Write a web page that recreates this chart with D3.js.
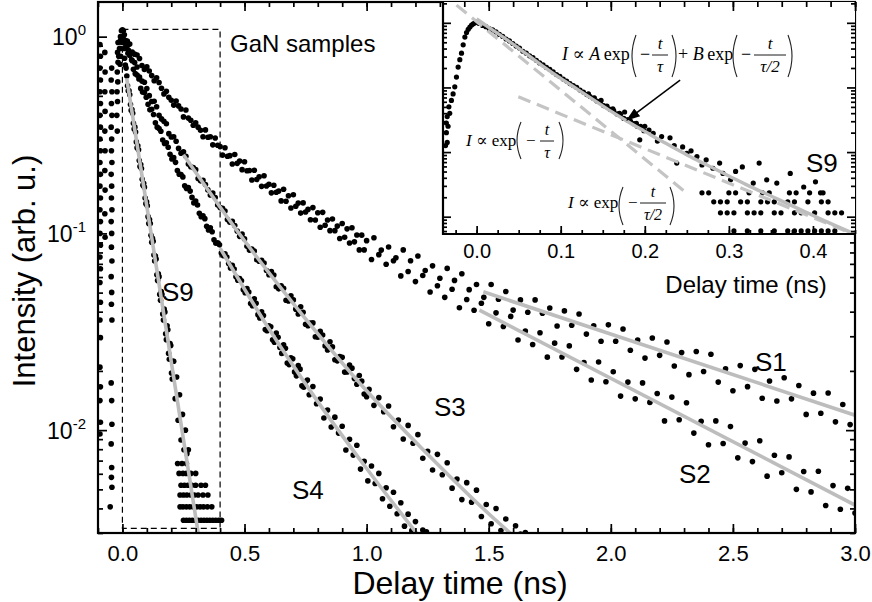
<!DOCTYPE html>
<html><head><meta charset="utf-8">
<script src="https://cdn.jsdelivr.net/npm/d3@7"></script>
<style>
body{margin:0;background:#fff}
svg{display:block}
</style>
</head><body>
<svg id="chart" width="872" height="602"></svg>
<script>
// ---------------- DATA ----------------
// Main axes
const mainXDomain = [-0.1, 3.0];
const mainYDomain = [0.003, 1.5];
const mainXMajor = [0, 0.5, 1.0, 1.5, 2.0, 2.5, 3.0];
const mainXTickLabels = ["0.0", "0.5", "1.0", "1.5", "2.0", "2.5", "3.0"];
const mainXMinor = [-0.1,0,0.1,0.2,0.3,0.4,0.5,0.6,0.7,0.8,0.9,1.0,1.1,1.2,1.3,1.4,1.5,1.6,1.7,1.8,1.9,2.0,2.1,2.2,2.3,2.4,2.5,2.6,2.7,2.8,2.9,3.0];
const mainYMajor = [1, 0.1, 0.01];
const mainYExponents = ["0", "-1", "-2"];
const seriesNames = ["S1", "S2", "S3", "S4", "S9"];

// Inset axes
const insetXDomain = [-0.04, 0.45];
const insetYDomain = [0.00054, 2.1];
const insetXMajor = [0, 0.1, 0.2, 0.3, 0.4];
const insetXTickLabels = ["0.0", "0.1", "0.2", "0.3", "0.4"];
const insetXMinor = [-0.025,0,0.025,0.05,0.075,0.1,0.125,0.15,0.175,0.2,0.225,0.25,0.275,0.3,0.325,0.35,0.375,0.4,0.425,0.45];
const insetYMajor = [1, 0.1, 0.01, 0.001];

// Measured decays: pairs [delay time (ns), log10 of intensity (arb. u.)]
const s1Decay = [[0,0],[0.02,-0.023],[0.04,-0.078],[0.06,-0.093],[0.08,-0.147],[0.1,-0.153],[0.12,-0.198],[0.14,-0.209],[0.16,-0.262],[0.18,-0.278],[0.2,-0.323],[0.22,-0.327],[0.24,-0.368],[0.26,-0.373],[0.28,-0.425],[0.3,-0.438],[0.32,-0.476],[0.34,-0.474],[0.36,-0.509],[0.38,-0.515],[0.4,-0.559],[0.42,-0.565],[0.44,-0.605],[0.46,-0.599],[0.48,-0.632],[0.5,-0.636],[0.52,-0.68],[0.54,-0.679],[0.56,-0.712],[0.58,-0.707],[0.6,-0.75],[0.62,-0.755],[0.64,-0.785],[0.66,-0.776],[0.68,-0.809],[0.7,-0.804],[0.72,-0.846],[0.74,-0.845],[0.76,-0.878],[0.78,-0.869],[0.8,-0.895],[0.82,-0.893],[0.84,-0.932],[0.86,-0.927],[0.88,-0.963],[0.9,-0.95],[0.92,-0.977],[0.94,-0.971],[0.96,-1.008],[0.98,-1.009],[1,-1.037],
[1.03,-1.022],[1.06,-1.085],[1.09,-1.069],[1.12,-1.124],[1.15,-1.084],[1.18,-1.139],[1.21,-1.115],[1.24,-1.189],[1.27,-1.165],[1.3,-1.228],[1.33,-1.178],[1.36,-1.239],[1.39,-1.205],[1.42,-1.286],[1.45,-1.26],[1.48,-1.325],[1.51,-1.26],[1.54,-1.335],[1.57,-1.295],[1.6,-1.39],[1.63,-1.338],[1.66,-1.401],[1.69,-1.338],[1.72,-1.406],[1.75,-1.379],[1.78,-1.471],[1.81,-1.394],[1.84,-1.467],[1.87,-1.41],[1.9,-1.512],[1.93,-1.47],[1.96,-1.548],[1.99,-1.465],[2.02,-1.548],[2.05,-1.486],[2.08,-1.594],[2.11,-1.542],[2.14,-1.634],[2.17,-1.532],[2.2,-1.62],[2.23,-1.552],[2.26,-1.674],[2.29,-1.606],[2.32,-1.718],[2.35,-1.6],[2.38,-1.702],[2.41,-1.614],[2.44,-1.756],[2.47,-1.688],[2.5,-1.8],[2.53,-1.672],[2.56,-1.779],[2.59,-1.691],[2.62,-1.838],[2.65,-1.75],[2.68,-1.852],[2.71,-1.734],[2.74,-1.841],[2.77,-1.773],[2.8,-1.92],[2.83,-1.812],[2.86,-1.914],[2.89,-1.811],[2.92,-1.958],[2.95,-1.87],[2.98,-1.972]];

const s2Decay = [[0.01,-0.027],[0.03,-0.038],[0.05,-0.089],[0.07,-0.111],[0.09,-0.167],[0.11,-0.175],[0.13,-0.224],[0.15,-0.233],[0.17,-0.291],[0.19,-0.308],[0.21,-0.348],[0.23,-0.352],[0.25,-0.408],[0.27,-0.414],[0.29,-0.45],[0.31,-0.46],[0.33,-0.509],[0.35,-0.511],[0.37,-0.55],[0.39,-0.552],[0.41,-0.602],[0.43,-0.608],[0.45,-0.647],[0.47,-0.644],[0.49,-0.676],[0.51,-0.682],[0.53,-0.729],[0.55,-0.726],[0.57,-0.761],[0.59,-0.759],[0.61,-0.794],[0.63,-0.791],[0.65,-0.835],[0.67,-0.837],[0.69,-0.871],[0.71,-0.862],[0.73,-0.897],[0.75,-0.891],[0.77,-0.931],[0.79,-0.932],[0.81,-0.969],[0.83,-0.959],[0.85,-0.986],[0.87,-0.986],[0.89,-1.026],[0.91,-1.02],[0.93,-1.049],[0.95,-1.043],[0.97,-1.084],[0.99,-1.084],
[1.02,-1.133],[1.05,-1.108],[1.08,-1.157],[1.11,-1.139],[1.14,-1.216],[1.17,-1.194],[1.2,-1.245],[1.23,-1.214],[1.26,-1.298],[1.29,-1.266],[1.32,-1.325],[1.35,-1.284],[1.38,-1.378],[1.41,-1.336],[1.44,-1.391],[1.47,-1.355],[1.5,-1.459],[1.53,-1.404],[1.56,-1.473],[1.59,-1.422],[1.62,-1.542],[1.65,-1.496],[1.68,-1.565],[1.71,-1.505],[1.74,-1.629],[1.77,-1.558],[1.8,-1.628],[1.83,-1.572],[1.86,-1.691],[1.89,-1.656],[1.92,-1.745],[1.95,-1.654],[1.98,-1.754],[2.01,-1.703],[2.04,-1.827],[2.07,-1.756],[2.1,-1.841],[2.13,-1.76],[2.16,-1.859],[2.19,-1.814],[2.22,-1.953],[2.25,-1.832],[2.28,-1.947],[2.31,-1.861],[2.34,-2.015],[2.37,-1.955],[2.4,-2.074],[2.43,-1.953],[2.46,-2.068],[2.49,-1.982],[2.52,-2.141],[2.55,-2.066],[2.58,-2.16],[2.61,-2.054],[2.64,-2.234],[2.67,-2.128],[2.7,-2.217],[2.73,-2.136],[2.76,-2.301],[2.79,-2.21],[2.82,-2.314],[2.85,-2.209],[2.88,-2.383],[2.91,-2.282],[2.94,-2.402],[2.97,-2.296],[3.0,-2.421]];

const s3Decay = [[0.01,-0.018],[0.03,-0.096],[0.05,-0.132],[0.07,-0.206],[0.09,-0.232],[0.11,-0.3],[0.13,-0.328],[0.15,-0.4],[0.17,-0.43],[0.19,-0.493],[0.21,-0.509],[0.23,-0.568],[0.25,-0.585],[0.27,-0.647],[0.29,-0.665],[0.31,-0.721],[0.33,-0.73],[0.35,-0.779],[0.37,-0.795],[0.39,-0.856],[0.41,-0.873],[0.43,-0.93],[0.45,-0.938],[0.47,-0.988],[0.49,-1.004],[0.51,-1.066],[0.53,-1.08],[0.55,-1.134],[0.57,-1.137],[0.59,-1.189],[0.61,-1.194],[0.63,-1.271],[0.65,-1.266],[0.67,-1.34],[0.69,-1.317],[0.71,-1.385],[0.73,-1.373],[0.75,-1.462],[0.77,-1.456],[0.79,-1.525],[0.81,-1.498],[0.83,-1.572],[0.85,-1.551],[0.87,-1.642],[0.89,-1.626],[0.91,-1.705],[0.93,-1.669],[0.95,-1.738],[0.97,-1.722],[0.99,-1.816],[1.01,-1.793],[1.03,-1.874],[1.05,-1.835],[1.07,-1.906],[1.09,-1.877],[1.11,-1.983],[1.13,-1.949],[1.15,-2.045],[1.17,-1.976],[1.19,-2.067],[1.21,-2.023],[1.23,-2.143],[1.25,-2.108],[1.27,-2.203],[1.29,-2.123],[1.31,-2.227],[1.33,-2.166],[1.35,-2.295],[1.37,-2.249],[1.39,-2.353],[1.41,-2.267],[1.43,-2.366],[1.45,-2.305],[1.47,-2.439],[1.49,-2.378],[1.51,-2.476],[1.53,-2.398],[1.55,-2.51],[1.57,-2.452],[1.59,-2.544],[1.61,-2.486],[1.63,-2.528],[1.65,-2.52]];
const s3DecayB = [[0.02,-0.046],[0.04,-0.122],[0.06,-0.154],[0.08,-0.226],[0.1,-0.264],[0.12,-0.33],[0.14,-0.356],[0.16,-0.418],[0.18,-0.443],[0.2,-0.51],[0.22,-0.532],[0.24,-0.593],[0.26,-0.608],[0.28,-0.661],[0.3,-0.676],[0.32,-0.733],[0.34,-0.752],[0.36,-0.805],[0.38,-0.818],[0.4,-0.869],[0.42,-0.886],[0.44,-0.943],[0.46,-0.96],[0.48,-1.015],[0.5,-1.028],[0.52,-1.085],[0.54,-1.09],[0.56,-1.142],[0.58,-1.151],[0.6,-1.21],[0.62,-1.212],[0.64,-1.282],[0.66,-1.279],[0.68,-1.344],[0.7,-1.338],[0.72,-1.41],[0.74,-1.401],[0.76,-1.469],[0.78,-1.455],[0.8,-1.528],[0.82,-1.517],[0.84,-1.593],[0.86,-1.577],[0.88,-1.648],[0.9,-1.63],[0.92,-1.704],[0.94,-1.685],[0.96,-1.767],[0.98,-1.751],[1.0,-1.83]];

const s4Decay = [[0.015,-0.059],[0.03,-0.09],[0.045,-0.166],[0.06,-0.195],[0.075,-0.263],[0.09,-0.284],[0.105,-0.344],[0.12,-0.369],[0.135,-0.438],[0.15,-0.467],[0.165,-0.525],[0.18,-0.539],[0.195,-0.598],[0.21,-0.615],[0.225,-0.68],[0.24,-0.701],[0.255,-0.758],[0.27,-0.767],[0.285,-0.817],[0.3,-0.836],[0.315,-0.898],[0.33,-0.911],[0.345,-0.964],[0.36,-0.971],[0.375,-1.032],[0.39,-1.048],[0.405,-1.1],[0.42,-1.104],[0.435,-1.153],[0.45,-1.162],[0.465,-1.221],[0.48,-1.23],[0.495,-1.286],[0.51,-1.281],[0.525,-1.356],[0.54,-1.332],[0.555,-1.413],[0.57,-1.399],[0.585,-1.489],[0.6,-1.47],[0.615,-1.541],[0.63,-1.506],[0.645,-1.58],[0.66,-1.566],[0.675,-1.659],[0.69,-1.632],[0.705,-1.704],[0.72,-1.672],[0.735,-1.775],[0.75,-1.753],[0.765,-1.82],[0.78,-1.778],[0.795,-1.866],[0.81,-1.842],[0.825,-1.938],[0.84,-1.898],[0.855,-1.984],[0.87,-1.934],[0.885,-2.015],[0.9,-1.98],[0.915,-2.101],[0.93,-2.046],[0.945,-2.127],[0.96,-2.077],[0.975,-2.198],[0.99,-2.158],[1.005,-2.258],[1.02,-2.182],[1.035,-2.271],[1.05,-2.22],[1.065,-2.349],[1.08,-2.293],[1.095,-2.387],[1.11,-2.316],[1.125,-2.425],[1.14,-2.369],[1.155,-2.488],[1.17,-2.427],[1.185,-2.511],[1.2,-2.465],[1.215,-2.549],[1.23,-2.508],[1.245,-2.517]];
const s4DecayB = [[0.0075,-0.02],[0.0225,-0.085],[0.0375,-0.118],[0.0525,-0.188],[0.0675,-0.215],[0.0825,-0.281],[0.0975,-0.308],[0.1125,-0.372],[0.1275,-0.396],[0.1425,-0.46],[0.1575,-0.481],[0.1725,-0.543],[0.1875,-0.562],[0.2025,-0.622],[0.2175,-0.639],[0.2325,-0.699],[0.2475,-0.713],[0.2625,-0.772],[0.2775,-0.785],[0.2925,-0.845],[0.3075,-0.856],[0.3225,-0.915],[0.3375,-0.925],[0.3525,-0.983],[0.3675,-0.992],[0.3825,-1.05],[0.3975,-1.058],[0.4125,-1.113],[0.4275,-1.12],[0.4425,-1.176],[0.4575,-1.181],[0.4725,-1.238],[0.4875,-1.241],[0.5025,-1.302],[0.5175,-1.298],[0.5325,-1.368],[0.5475,-1.355],[0.5625,-1.43],[0.5775,-1.418],[0.5925,-1.495],[0.6075,-1.475],[0.6225,-1.553],[0.6375,-1.528],[0.6525,-1.61],[0.6675,-1.584],[0.6825,-1.667],[0.6975,-1.637],[0.7125,-1.724],[0.7275,-1.69],[0.7425,-1.782],[0.7575,-1.745]];

const s9Decay = [[0.006,-0.06],[0.012,-0.145],[0.018,-0.2],[0.024,-0.275],[0.03,-0.295],[0.036,-0.375],[0.042,-0.39],[0.048,-0.47],[0.054,-0.485],[0.06,-0.565],[0.066,-0.575],[0.072,-0.66],[0.078,-0.67],[0.084,-0.755],[0.09,-0.765],[0.096,-0.85],[0.102,-0.86],[0.108,-0.95],[0.114,-0.95],[0.12,-1.045],[0.126,-1.04],[0.132,-1.14],[0.138,-1.13],[0.144,-1.24],[0.15,-1.22],[0.156,-1.34],[0.162,-1.31],[0.168,-1.44],[0.174,-1.4],[0.18,-1.54],[0.186,-1.49],[0.192,-1.64],[0.198,-1.57],[0.204,-1.74],[0.21,-1.65],[0.216,-1.84],[0.222,-1.73],[0.228,-1.95],[0.234,-1.82],[0.24,-2.05],[0.246,-1.92],[0.252,-2.1],[0.258,-2.0],[0.264,-2.12],[0.27,-2.1]];
const s9DecayB = [[0.003,-0.02],[0.009,-0.11],[0.015,-0.16],[0.021,-0.25],[0.027,-0.275],[0.033,-0.345],[0.039,-0.37],[0.045,-0.44],[0.051,-0.46],[0.057,-0.535],[0.063,-0.555],[0.069,-0.63],[0.075,-0.65],[0.081,-0.725],[0.087,-0.745],[0.093,-0.82],[0.099,-0.84],[0.105,-0.915],[0.111,-0.93],[0.117,-1.01],[0.123,-1.025],[0.129,-1.11],[0.135,-1.115],[0.141,-1.21],[0.147,-1.205],[0.153,-1.31],[0.159,-1.295],[0.165,-1.41],[0.171,-1.385],[0.177,-1.51],[0.183,-1.47],[0.189,-1.61],[0.195,-1.56],[0.201,-1.71],[0.207,-1.65]];

// low-count S9 points sit on discrete intensity levels
const s9CountRows = [[0.226,-2.17],[0.244,-2.17],[0.262,-2.17],
[0.232,-2.22],[0.248,-2.22],[0.262,-2.22],[0.28,-2.22],[0.3,-2.22],
[0.24,-2.28],[0.254,-2.28],[0.268,-2.28],[0.284,-2.28],[0.3,-2.28],[0.322,-2.28],[0.34,-2.28],
[0.236,-2.33],[0.25,-2.33],[0.264,-2.33],[0.28,-2.33],[0.294,-2.33],[0.31,-2.33],[0.33,-2.33],[0.35,-2.33],
[0.236,-2.39],[0.248,-2.39],[0.262,-2.39],[0.276,-2.39],[0.29,-2.39],[0.304,-2.39],[0.318,-2.39],[0.332,-2.39],[0.348,-2.39],[0.366,-2.39],
[0.25,-2.458],[0.262,-2.458],[0.274,-2.458],[0.286,-2.458],[0.298,-2.458],[0.31,-2.458],[0.322,-2.458],[0.334,-2.458],[0.346,-2.458],[0.358,-2.458],[0.37,-2.458],[0.382,-2.458],[0.394,-2.458],[0.406,-2.458]];

// rising edges before time zero (all samples) and the common peak
const riseEdge = [
[-0.092,-0.04],[-0.09,-0.1],[-0.092,-0.16],[-0.09,-0.22],[-0.092,-0.28],[-0.09,-0.34],[-0.092,-0.4],[-0.09,-0.46],[-0.092,-0.52],[-0.09,-0.58],[-0.092,-0.64],[-0.09,-0.7],[-0.092,-0.76],[-0.09,-0.82],[-0.092,-0.88],[-0.09,-0.94],[-0.092,-1.0],[-0.09,-1.06],[-0.092,-1.12],[-0.09,-1.18],[-0.092,-1.25],[-0.09,-1.35],[-0.092,-1.44],[-0.09,-1.53],[-0.092,-1.68],[-0.09,-1.78],[-0.092,-1.85],[-0.09,-1.96],[-0.092,-2.02],
[-0.072,-0.08],[-0.071,-0.18],[-0.072,-0.28],[-0.071,-0.38],[-0.072,-0.48],[-0.071,-0.58],[-0.072,-0.68],[-0.071,-0.78],[-0.072,-0.9],[-0.071,-1.02],
[-0.044,-0.16],[-0.046,-0.22],[-0.043,-0.28],[-0.045,-0.34],[-0.043,-0.4],[-0.046,-0.46],[-0.044,-0.52],[-0.045,-0.58],[-0.043,-0.64],[-0.046,-0.7],[-0.044,-0.76],[-0.045,-0.82],[-0.043,-0.88],[-0.046,-0.94],[-0.044,-1.0],[-0.045,-1.07],[-0.043,-1.14],[-0.046,-1.22],[-0.044,-1.3],[-0.045,-1.36],[-0.043,-1.44],[-0.046,-1.76],[-0.044,-1.85],[-0.043,-1.97],[-0.046,-2.07],[-0.044,-2.19],[-0.045,-2.24],[-0.043,-2.29],[-0.05,-2.39],
[-0.018,-0.03],[-0.02,-0.08],[-0.018,-0.13],[-0.021,-0.18],[-0.019,-0.23],[-0.022,-0.28],[-0.02,-0.33],[-0.023,-0.4],[-0.021,-0.48],
[-0.008,-0.02],[-0.009,-0.06],[-0.007,-0.1],[-0.01,-0.14],
[-0.004,0.03],[0,0.035],[0.004,0.03],[0.008,0.01],[-0.008,0.0],[0.012,-0.02],[0.002,0.0],[0.006,-0.03],[0.014,-0.05],[-0.002,-0.03],[0.02,-0.04],[0.025,-0.07],[-0.012,-0.06],[-0.015,-0.1]];

// fitted curves (grey), pairs [time, log10 intensity]
const s1Fit = [[1.478,-1.297],[3.0,-1.924]];
const s2Fit = [[1.462,-1.39],[3.0,-2.381]];
const s3Fit = [[0.25,-0.6],[0.5,-1.0375],[0.75,-1.434],[1.0,-1.8],[1.25,-2.1225],[1.5,-2.425],[1.65,-2.59]];
const s4Fit = [[0.4,-1.075],[0.6,-1.485],[0.8,-1.855],[1.0,-2.195],[1.25,-2.595]];
const s9Fit = [[0.0176,-0.212],[0.32,-2.6]];

// zoom window marked in the main plot (time range, intensity range)
const zoomBoxT = [0, 0.4];
const zoomBoxI = [0.00317, 1.09];

// Inset: S9 decay on expanded time scale
const insetRise = [[-0.037,-1.9],[-0.036,-1.7],[-0.036,-1.55],[-0.035,-1.85],[-0.035,-1.45],[-0.034,-1.6],[-0.033,-1.3],[-0.032,-1.4],[-0.03,-1.2],[-0.028,-1.1],[-0.026,-0.99],[-0.024,-0.84],[-0.022,-0.685],[-0.02,-0.57],[-0.018,-0.47],[-0.016,-0.34],[-0.014,-0.22],[-0.012,-0.15],[-0.01,-0.1],[-0.008,-0.066],[-0.006,-0.035],[-0.004,-0.015],[-0.002,0.0],[0,0.01]];
const insetDecay = [[0.003,-0.01],[0.007,-0.04],[0.011,-0.06],[0.015,-0.09],[0.019,-0.11],[0.023,-0.14],[0.027,-0.18],[0.031,-0.21],[0.035,-0.25],[0.039,-0.28],[0.043,-0.32],[0.047,-0.36],[0.051,-0.39],[0.055,-0.44],[0.059,-0.47],[0.063,-0.51],[0.067,-0.54],[0.071,-0.58],[0.075,-0.62],[0.079,-0.65],[0.083,-0.69],[0.087,-0.72],[0.091,-0.76],[0.095,-0.8],[0.099,-0.83],[0.103,-0.87],[0.107,-0.9],[0.111,-0.94],[0.115,-0.97],[0.119,-1.0],[0.123,-1.04],[0.127,-1.07],[0.131,-1.11],[0.135,-1.14],[0.139,-1.17],[0.143,-1.21],[0.147,-1.23],[0.151,-1.28],[0.155,-1.3],[0.159,-1.34],[0.163,-1.36],[0.167,-1.41],[0.171,-1.42],[0.175,-1.48],[0.179,-1.5],[0.183,-1.52],[0.187,-1.56],[0.191,-1.6],[0.195,-1.6],[0.199,-1.67]];
const insetScatter = [[0.133,-1.1],[0.14,-1.16],[0.148,-1.2],[0.155,-1.29],[0.162,-1.33],[0.17,-1.4],[0.176,-1.38],[0.18,-1.5],[0.19,-1.555],[0.194,-1.81],[0.2,-1.6],[0.205,-1.66],[0.21,-1.71],[0.215,-1.83],[0.22,-1.76],[0.23,-1.78],[0.235,-1.9],[0.238,-2.17],[0.245,-1.92],[0.25,-2.02],[0.255,-1.98],[0.262,-2.07],[0.268,-2.2],[0.273,-2.12],[0.281,-2.25],[0.289,-2.17],[0.293,-2.33],[0.302,-2.43],[0.308,-2.3],[0.316,-2.23],[0.329,-2.48],[0.336,-2.17],[0.345,-2.43],[0.357,-2.48],[0.373,-2.33],[0.389,-2.54],[0.403,-2.46],[0.409,-2.63]];
const insetCountRows = [[0.268,-2.63],[0.276,-2.63],[0.3,-2.63],[0.308,-2.63],[0.324,-2.63],[0.34,-2.63],[0.348,-2.63],[0.372,-2.63],[0.38,-2.63],[0.396,-2.63],[0.412,-2.63],
[0.282,-2.77],[0.29,-2.77],[0.298,-2.77],[0.314,-2.77],[0.322,-2.77],[0.338,-2.77],[0.346,-2.77],[0.354,-2.77],[0.37,-2.77],[0.378,-2.77],[0.394,-2.77],[0.41,-2.77],[0.418,-2.77],
[0.29,-2.94],[0.298,-2.94],[0.306,-2.94],[0.322,-2.94],[0.33,-2.94],[0.338,-2.94],[0.354,-2.94],[0.362,-2.94],[0.378,-2.94],[0.386,-2.94],[0.402,-2.94],[0.418,-2.94],[0.426,-2.94],[0.434,-2.94],
[0.306,-3.22],[0.322,-3.22],[0.338,-3.22],[0.354,-3.22],[0.37,-3.22],[0.378,-3.22],[0.386,-3.22],[0.394,-3.22],[0.402,-3.22],[0.41,-3.22],[0.418,-3.22],[0.426,-3.22]];
const insetFitBoth = [[0,0.06],[0.02,-0.12],[0.04,-0.3],[0.06,-0.49],[0.08,-0.68],[0.1,-0.86],[0.12,-1.03],[0.14,-1.2],[0.16,-1.37],[0.18,-1.53],[0.2,-1.68],[0.22,-1.83],[0.24,-1.97],[0.26,-2.11],[0.28,-2.24],[0.3,-2.37],[0.32,-2.5],[0.34,-2.62],[0.36,-2.74],[0.38,-2.86],[0.4,-2.98],[0.42,-3.1],[0.45,-3.27]];
const insetFitFast = [[-0.024,0.274],[0.25,-2.637]];
const insetFitSlow = [[0.0496,-1.144],[0.45,-3.28]];
const arrowTail = [0.242, -0.886];
const arrowHead = [0.179, -1.503];

// ---------------- DRAWING ----------------
const SANS = "'Liberation Sans', Arial, Helvetica, sans-serif";
const SERIF = "'Liberation Serif', 'Times New Roman', 'DejaVu Serif', serif";
const svg = d3.select("#chart");
svg.append("rect").attr("width", 872).attr("height", 602).attr("fill", "#fff");

const M = {left: 98, right: 855, top: 2, bottom: 533};
const IN = {left: 443, right: 855, top: 2, bottom: 234};

const x = d3.scaleLinear().domain(mainXDomain).range([M.left, M.right]);
const y = d3.scaleLog().domain(mainYDomain).range([M.bottom, M.top]);
const xi = d3.scaleLinear().domain(insetXDomain).range([IN.left, IN.right]);
const yi = d3.scaleLog().domain(insetYDomain).range([IN.bottom, IN.top]);

const pw = v => Math.pow(10, v);

const defs = svg.append("defs");
defs.append("clipPath").attr("id", "clipMain").append("rect")
  .attr("x", M.left).attr("y", M.top).attr("width", M.right - M.left).attr("height", M.bottom - M.top);
defs.append("clipPath").attr("id", "clipInset").append("rect")
  .attr("x", IN.left).attr("y", IN.top).attr("width", IN.right - IN.left).attr("height", IN.bottom - IN.top);
defs.append("marker").attr("id", "arrow").attr("viewBox", "0 0 10 10").attr("refX", 9).attr("refY", 5)
  .attr("markerWidth", 14).attr("markerHeight", 14).attr("markerUnits", "userSpaceOnUse").attr("orient", "auto")
  .append("path").attr("d", "M0,1.5 L10,5 L0,8.5 Z").attr("fill", "#000");

// ---- main plot content
const gMain = svg.append("g").attr("clip-path", "url(#clipMain)");

gMain.append("rect")
  .attr("x", x(zoomBoxT[0])).attr("y", y(zoomBoxI[1]))
  .attr("width", x(zoomBoxT[1]) - x(zoomBoxT[0])).attr("height", y(zoomBoxI[0]) - y(zoomBoxI[1]))
  .attr("fill", "none").attr("stroke", "#000").attr("stroke-width", 1.2).attr("stroke-dasharray", "6,4");

const mainDotSets = [riseEdge, s1Decay, s2Decay, s3Decay, s3DecayB, s4Decay, s4DecayB, s9Decay, s9DecayB, s9CountRows];
gMain.selectAll("g.dots").data(mainDotSets).join("g").attr("class", "dots")
  .selectAll("circle").data(d => d).join("circle")
  .attr("cx", d => x(d[0])).attr("cy", d => y(pw(d[1]))).attr("r", 2.8).attr("fill", "#000");

const lineMain = d3.line().x(d => x(d[0])).y(d => y(pw(d[1]))).curve(d3.curveMonotoneX);
gMain.selectAll("path.fit").data([s1Fit, s2Fit, s3Fit, s4Fit, s9Fit]).join("path").attr("class", "fit")
  .attr("d", lineMain).attr("fill", "none").attr("stroke", "#bdbdbd").attr("stroke-width", 3.6);

// series labels
const seriesLabelPos = {S1: [755, 371], S2: [679, 483], S3: [434, 416], S4: [292, 499], S9: [162, 301]};
svg.selectAll("text.slabel").data(seriesNames).join("text").attr("class", "slabel")
  .attr("x", d => seriesLabelPos[d][0]).attr("y", d => seriesLabelPos[d][1])
  .attr("font-family", SANS).attr("font-size", 26).text(d => d);

svg.append("text").attr("x", 230).attr("y", 52).attr("font-family", SANS).attr("font-size", 24).text("GaN samples");

// ---- main axes
function tickStyle(g) {
  g.select(".domain").remove();
  g.selectAll(".tick line").attr("stroke", "#000").attr("stroke-width", 1.7);
  g.selectAll(".tick text").attr("font-family", SANS).attr("fill", "#000");
}
const yMinor = y.ticks().filter(v => !mainYMajor.some(m => Math.abs(m - v) < 1e-9));

svg.append("g").attr("transform", `translate(0,${M.bottom})`)
  .call(d3.axisBottom(x).tickValues(mainXMinor).tickSize(-5).tickFormat(""))
  .call(tickStyle);
svg.append("g").attr("transform", `translate(0,${M.bottom})`)
  .call(d3.axisBottom(x).tickValues(mainXMajor).tickSizeInner(-9).tickSizeOuter(0).tickPadding(12)
    .tickFormat((d, i) => mainXTickLabels[i]))
  .call(tickStyle)
  .call(g => g.selectAll(".tick text").attr("font-size", 22));
svg.append("g").attr("transform", `translate(0,${M.top})`)
  .call(d3.axisTop(x).tickValues(mainXMinor).tickSize(-5).tickFormat(""))
  .call(tickStyle);
svg.append("g").attr("transform", `translate(0,${M.top})`)
  .call(d3.axisTop(x).tickValues(mainXMajor).tickSize(-9).tickFormat(""))
  .call(tickStyle);
svg.append("g").attr("transform", `translate(${M.left},0)`)
  .call(d3.axisLeft(y).tickValues(yMinor).tickSize(-5).tickFormat(""))
  .call(tickStyle);
svg.append("g").attr("transform", `translate(${M.left},0)`)
  .call(d3.axisLeft(y).tickValues(mainYMajor).tickSizeInner(-9).tickSizeOuter(0).tickPadding(12).tickFormat(""))
  .call(tickStyle)
  .call(g => g.selectAll(".tick text").attr("font-size", 23).attr("dy", "0.36em").each(function(d, i) {
    const t = d3.select(this);
    t.append("tspan").text("10");
    t.append("tspan").attr("dy", -10).attr("font-size", 15).text(mainYExponents[i]);
  }));
svg.append("g").attr("transform", `translate(${M.right},0)`)
  .call(d3.axisRight(y).tickValues(yMinor.filter(v => y(v) > IN.bottom + 3)).tickSize(-5).tickFormat(""))
  .call(tickStyle);
svg.append("g").attr("transform", `translate(${M.right},0)`)
  .call(d3.axisRight(y).tickValues(mainYMajor.filter(v => y(v) > IN.bottom + 3)).tickSize(-9).tickFormat(""))
  .call(tickStyle);

svg.append("rect").attr("x", M.left).attr("y", M.top).attr("width", M.right - M.left).attr("height", M.bottom - M.top)
  .attr("fill", "none").attr("stroke", "#000").attr("stroke-width", 2.2);

svg.append("text").attr("x", 460).attr("y", 594).attr("text-anchor", "middle")
  .attr("font-family", SANS).attr("font-size", 32).text("Delay time (ns)");
svg.append("text").attr("transform", `translate(35,271) rotate(-90)`).attr("text-anchor", "middle")
  .attr("font-family", SANS).attr("font-size", 31).text("Intensity (arb. u.)");

// ---- inset
svg.append("rect").attr("x", IN.left).attr("y", IN.top).attr("width", IN.right - IN.left).attr("height", IN.bottom - IN.top)
  .attr("fill", "#fff");
const gIn = svg.append("g").attr("clip-path", "url(#clipInset)");
gIn.selectAll("g.idots").data([insetRise, insetDecay, insetScatter, insetCountRows]).join("g").attr("class", "idots")
  .selectAll("circle").data(d => d).join("circle")
  .attr("cx", d => xi(d[0])).attr("cy", d => yi(pw(d[1]))).attr("r", 2.6).attr("fill", "#000");
const lineIn = d3.line().x(d => xi(d[0])).y(d => yi(pw(d[1]))).curve(d3.curveMonotoneX);
gIn.selectAll("path.dfit").data([insetFitFast, insetFitSlow]).join("path").attr("class", "dfit")
  .attr("d", lineIn).attr("fill", "none").attr("stroke", "#c4c4c4").attr("stroke-width", 3.2).attr("stroke-dasharray", "13,7");
gIn.append("path").datum(insetFitBoth).attr("d", lineIn).attr("fill", "none")
  .attr("stroke", "#bdbdbd").attr("stroke-width", 3.4);

svg.append("line").attr("x1", xi(arrowTail[0])).attr("y1", yi(pw(arrowTail[1])))
  .attr("x2", xi(arrowHead[0])).attr("y2", yi(pw(arrowHead[1])))
  .attr("stroke", "#000").attr("stroke-width", 1.5).attr("marker-end", "url(#arrow)");

svg.append("text").attr("x", 806).attr("y", 172).attr("font-family", SANS).attr("font-size", 26).text("S9");

// formulas
function paren(x0, y1, y2, dir) {
  svg.append("path").attr("d", `M${x0},${y1} Q${x0 - dir * 8},${(y1 + y2) / 2} ${x0},${y2}`)
    .attr("fill", "none").attr("stroke", "#222").attr("stroke-width", 1.1);
}
function ftext(xx, yy, parts, size, anchor) {
  const t = svg.append("text").attr("x", xx).attr("y", yy).attr("font-family", SERIF).attr("font-size", size)
    .attr("text-anchor", anchor || "start");
  parts.forEach(p => t.append("tspan").attr("font-style", p[1] ? "italic" : "normal").text(p[0]));
}
function frac(cx, yBar, w, num, den, size) {
  ftext(cx, yBar - 6, num, size, "middle");
  svg.append("line").attr("x1", cx - w / 2).attr("x2", cx + w / 2).attr("y1", yBar).attr("y2", yBar)
    .attr("stroke", "#000").attr("stroke-width", 0.9);
  ftext(cx, yBar + 17, den, size, "middle");
}
// I ∝ A exp(-t/τ) + B exp(-t/(τ/2))
ftext(562, 60, [["I", true], [" \u221D ", false], ["A", true], ["\u2009exp", false]], 18);
paren(636, 35, 77, 1);
ftext(640, 60, [["\u2212", false]], 18);
frac(660, 55, 16, [["t", true]], [["\u03C4", true]], 17);
paren(672, 35, 77, -1);
ftext(678, 60, [["+ ", false], ["B", true], ["\u2009exp", false]], 18);
paren(737, 35, 77, 1);
ftext(741, 60, [["\u2212", false]], 18);
frac(770, 55, 32, [["t", true]], [["\u03C4/2", true]], 17);
paren(788, 35, 77, -1);
// I ∝ exp(-t/τ)
ftext(466, 146, [["I", true], [" \u221D ", false], ["exp", false]], 17);
paren(521, 122, 159, 1);
ftext(526, 146, [["\u2212", false]], 17);
frac(547, 141, 14, [["t", true]], [["\u03C4", true]], 16);
paren(559, 122, 159, -1);
// I ∝ exp(-t/(τ/2))
ftext(568, 208, [["I", true], [" \u221D ", false], ["exp", false]], 17);
paren(623, 187, 225, 1);
ftext(628, 208, [["\u2212", false]], 17);
frac(653, 203, 26, [["t", true]], [["\u03C4/2", true]], 16);
paren(670, 187, 225, -1);

// inset axes
const yiMinor = yi.ticks().filter(v => !insetYMajor.some(m => Math.abs(m - v) < 1e-12));
svg.append("g").attr("transform", `translate(0,${IN.bottom})`)
  .call(d3.axisBottom(xi).tickValues(insetXMinor).tickSize(-4).tickFormat(""))
  .call(tickStyle);
svg.append("g").attr("transform", `translate(0,${IN.bottom})`)
  .call(d3.axisBottom(xi).tickValues(insetXMajor).tickSizeInner(-8).tickSizeOuter(0).tickPadding(10)
    .tickFormat((d, i) => insetXTickLabels[i]))
  .call(tickStyle)
  .call(g => g.selectAll(".tick text").attr("font-size", 20));
[[IN.left, d3.axisLeft], [IN.right, d3.axisRight]].forEach(([xx, ax]) => {
  svg.append("g").attr("transform", `translate(${xx},0)`)
    .call(ax(yi).tickValues(yiMinor).tickSize(-4).tickFormat(""))
    .call(tickStyle);
  svg.append("g").attr("transform", `translate(${xx},0)`)
    .call(ax(yi).tickValues(insetYMajor).tickSize(-8).tickFormat(""))
    .call(tickStyle);
});
// main top ticks drawn over inset area again
svg.append("g").attr("transform", `translate(0,${M.top})`)
  .call(d3.axisTop(x).tickValues(mainXMinor.filter(v => x(v) > IN.left)).tickSize(-5).tickFormat(""))
  .call(tickStyle);
svg.append("g").attr("transform", `translate(0,${M.top})`)
  .call(d3.axisTop(x).tickValues(mainXMajor.filter(v => x(v) > IN.left)).tickSize(-9).tickFormat(""))
  .call(tickStyle);
svg.append("path").attr("d", `M${IN.left},${IN.top} V${IN.bottom} H${IN.right}`)
  .attr("fill", "none").attr("stroke", "#000").attr("stroke-width", 2.2);

svg.append("text").attr("x", 746).attr("y", 293).attr("text-anchor", "middle")
  .attr("font-family", SANS).attr("font-size", 24).text("Delay time (ns)");
</script>
</body></html>
